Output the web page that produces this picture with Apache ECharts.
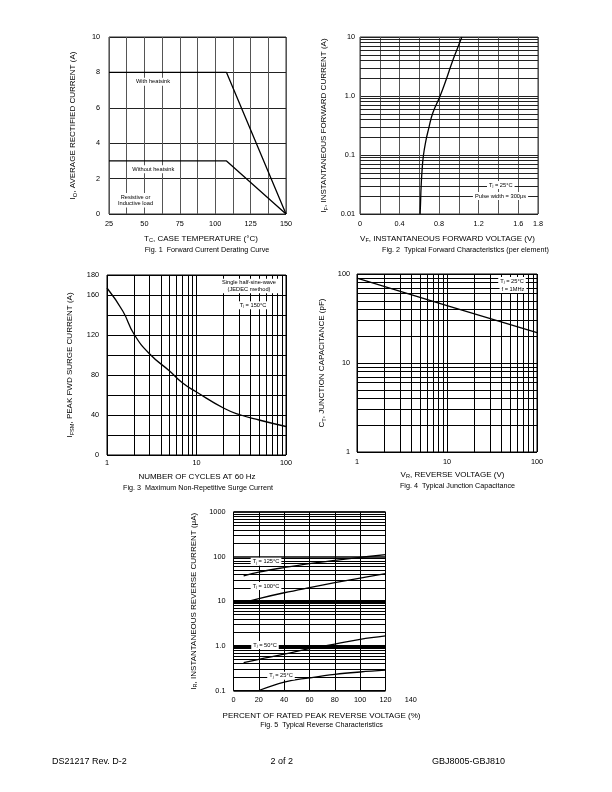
<!DOCTYPE html>
<html><head><meta charset="utf-8">
<script src="https://cdn.jsdelivr.net/npm/echarts@6/dist/echarts.min.js"></script>
<style>html,body{margin:0;padding:0;background:#fff}#c{width:612px;height:792px}</style>
</head><body><div id="c"></div>
<script>
// ---------------- Data ----------------
// Fig. 1 Forward Current Derating Curve
const fig1Temp = [25, 108, 150];
const fig1WithHeatsink = [8, 8, 0];
const fig1WithoutHeatsink = [3, 3, 0];
const fig1XLabels = [25, 50, 75, 100, 125, 150];
const fig1YLabels = [0, 2, 4, 6, 8, 10];

// Fig. 2 Typical Forward Characteristics
const fig2Voltage = [0.608, 0.612, 0.618, 0.628, 0.642, 0.665, 0.692, 0.736, 0.81, 0.871, 0.929, 0.98, 1.03];
const fig2Current = [0.01, 0.015, 0.029, 0.056, 0.1, 0.17, 0.27, 0.515, 1.0, 1.89, 3.62, 6.1, 10];
const fig2XLabels = ['0', '0.4', '0.8', '1.2', '1.6', '1.8'];
const fig2YLabels = ['0.01', '0.1', '1.0', '10'];
const fig2Decades = [0.01, 0.1, 1];

// Fig. 3 Maximum Non-Repetitive Surge Current
const fig3Cycles = [1, 1.5, 2, 3, 5, 7, 10, 20, 30, 50, 100];
const fig3Current = [167, 144, 121, 101, 84, 72, 63, 47, 40.5, 35, 28.5];
const fig3XLabels = ['1', '10', '100'];
const fig3YLabels = [0, 40, 80, 120, 160, 180];
const fig3Decades = [1, 10];

// Fig. 4 Typical Junction Capacitance
const fig4Voltage = [1, 10, 100];
const fig4Capacitance = [90, 44, 22];
const fig4XLabels = ['1', '10', '100'];
const fig4YLabels = ['1', '10', '100'];
const fig4Decades = [1, 10];

// Fig. 5 Typical Reverse Characteristics
const fig5Percent = [8, 20, 40, 60, 80, 100, 120];
const fig5Tj125 = [37, 45, 57, 70, 82, 96, 111];
const fig5Tj100 = [9.3, 11.5, 15.5, 20.2, 26, 33, 41.6];
const fig5Tj50 = [0.42, 0.5, 0.65, 0.87, 1.1, 1.4, 1.67];
const fig5Percent25 = [20, 40, 60, 80, 100, 120];
const fig5Tj25 = [0.1, 0.155, 0.192, 0.23, 0.26, 0.285];
const fig5XLabels = [0, 20, 40, 60, 80, 100, 120, 140];
const fig5YLabels = ['0.1', '1.0', '10', '100', '1000'];
const fig5Decades = [0.1, 1, 10, 100];
const fig5HeavyLines = [1, 10];

const logMinorSteps = [2, 3, 4, 5, 6, 7, 8, 9];

// ---------------- Helpers ----------------
const FONT = '"Liberation Sans", Arial, Helvetica, sans-serif';
const TICK = 7.3;
const pairs = (xs, ys) => xs.map((x, i) => [x, ys[i]]);
const minors = decs => decs.flatMap(d => logMinorSteps.map(m => +(d * m).toPrecision(6)));
const dec = v => Math.round(Math.log10(v));

const axisRich = {
  s: { fontSize: 5.6, fontFamily: FONT, color: '#000', lineHeight: 6, verticalAlign: 'bottom' }
};
function label(margin, formatter, show = true) {
  return { show, fontSize: TICK, fontFamily: FONT, color: '#000', margin, formatter,
           showMinLabel: true, showMaxLabel: true };
}
function split(color, width = 1) {
  return { show: true, lineStyle: { color, width, type: 'solid' } };
}
function yName(text, gap) {
  return { name: text, nameLocation: 'middle', nameGap: gap, nameRotate: 90,
           nameTextStyle: { fontSize: 8, fontFamily: FONT, color: '#000', lineHeight: 10, rich: axisRich } };
}
const noLine = { show: false };
const lineCommon = {
  type: 'line', showSymbol: false, symbol: 'none', silent: true, animation: false, z: 5,
  lineStyle: { color: '#000', width: 1.3 }, itemStyle: { color: '#000' }
};
function markLines(items, color) {
  return { silent: true, symbol: ['none', 'none'], label: { show: false }, animation: false,
           emphasis: { disabled: true },
           lineStyle: { type: 'solid', color: color || '#000', width: 1 }, data: items };
}
function txt(x, y, text, size, extra) {
  const style = Object.assign({
    text, fontSize: size, fontFamily: FONT, fill: '#000',
    align: 'center', verticalAlign: 'middle',
    rich: { s: { fontSize: size * 0.7, fontFamily: FONT, fill: '#000', lineHeight: size * 0.75, verticalAlign: 'bottom' },
            n: { fontSize: size, fontFamily: FONT, fill: '#000', lineHeight: size * 1.2 } }
  }, extra || {});
  return { type: 'text', x, y, z: 100, silent: true, style };
}
const box = { backgroundColor: '#fff', padding: [1, 2] };

// ---------------- Chart ----------------
const chart = echarts.init(document.getElementById('c'), null, { renderer: 'canvas' });
const gridBase = { show: true, borderColor: '#000', borderWidth: 1, backgroundColor: 'transparent', containLabel: false };

const option = {
  animation: false,
  backgroundColor: '#fff',
  grid: [
    Object.assign({ left: 109, top: 37, width: 177, height: 177 }, gridBase, { borderColor: '#333' }),
    Object.assign({ left: 360, top: 37, width: 178, height: 177 }, gridBase, { borderColor: '#333' }),
    Object.assign({ left: 107, top: 275, width: 179, height: 180 }, gridBase),
    Object.assign({ left: 357, top: 274, width: 180, height: 178 }, gridBase),
    Object.assign({ left: 233.5, top: 512, width: 152, height: 178.5 }, gridBase),
    { show: false, left: 233.5, top: 512, width: 177.3, height: 178.5 }
  ],
  xAxis: [
    { gridIndex: 0, type: 'value', min: 25, max: 150, interval: 12.5,
      axisLine: noLine, axisTick: noLine, splitLine: split('#555'),
      axisLabel: label(6, v => fig1XLabels.includes(v) ? String(v) : '') },
    { gridIndex: 1, type: 'value', min: 0, max: 1.8, interval: 0.2,
      axisLine: noLine, axisTick: noLine, splitLine: split('#555'),
      axisLabel: label(6, v => { const s = v === 0 ? '0' : v.toFixed(1); return fig2XLabels.includes(s) ? s : ''; }) },
    { gridIndex: 2, type: 'log', logBase: 10, min: 1, max: 100,
      axisLine: noLine, axisTick: noLine, splitLine: split('#000'),
      axisLabel: label(4, v => fig3XLabels[dec(v)]) },
    { gridIndex: 3, type: 'log', logBase: 10, min: 1, max: 100,
      axisLine: noLine, axisTick: noLine, splitLine: split('#000'),
      axisLabel: label(6, v => fig4XLabels[dec(v)]) },
    { gridIndex: 4, type: 'value', min: 0, max: 120, interval: 20,
      axisLine: noLine, axisTick: noLine, splitLine: split('#000'),
      axisLabel: { show: false } },
    { gridIndex: 5, type: 'value', min: 0, max: 140, interval: 20,
      axisLine: noLine, axisTick: noLine, splitLine: noLine,
      axisLabel: label(6, v => fig5XLabels.includes(v) ? String(v) : '') }
  ],
  yAxis: [
    Object.assign({ gridIndex: 0, type: 'value', min: 0, max: 10, interval: 2,
      axisLine: noLine, axisTick: noLine, splitLine: split('#222'),
      axisLabel: label(9, v => fig1YLabels.includes(v) ? String(v) : '') },
      yName('I{s|O}, AVERAGE RECTIFIED CURRENT (A)', 31)),
    Object.assign({ gridIndex: 1, type: 'log', logBase: 10, min: 0.01, max: 10,
      axisLine: noLine, axisTick: noLine, splitLine: split('#222'),
      axisLabel: label(5, v => fig2YLabels[dec(v) + 2]) },
      yName('I{s|F}, INSTANTANEOUS FORWARD CURRENT (A)', 31)),
    Object.assign({ gridIndex: 2, type: 'value', min: 0, max: 180, interval: 20,
      axisLine: noLine, axisTick: noLine, splitLine: split('#000'),
      axisLabel: label(8, v => fig3YLabels.includes(v) ? String(v) : '') },
      yName('I{s|FSM}, PEAK FWD SURGE CURRENT (A)', 32)),
    Object.assign({ gridIndex: 3, type: 'log', logBase: 10, min: 1, max: 100,
      axisLine: noLine, axisTick: noLine, splitLine: split('#000'),
      axisLabel: label(7, v => fig4YLabels[dec(v)]) },
      yName('C{s|T}, JUNCTION CAPACITANCE (pF)', 30)),
    Object.assign({ gridIndex: 4, type: 'log', logBase: 10, min: 0.1, max: 1000,
      axisLine: noLine, axisTick: noLine, splitLine: split('#000', 1.5),
      axisLabel: label(8, v => fig5YLabels[dec(v) + 1]) },
      yName('I{s|R}, INSTANTANEOUS REVERSE CURRENT (μA)', 35)),
    { gridIndex: 5, type: 'value', min: 0, max: 1, show: false }
  ],
  series: [
    // Fig 1
    Object.assign({ name: 'With heatsink', xAxisIndex: 0, yAxisIndex: 0, data: pairs(fig1Temp, fig1WithHeatsink) }, lineCommon),
    Object.assign({ name: 'Without heatsink', xAxisIndex: 0, yAxisIndex: 0, data: pairs(fig1Temp, fig1WithoutHeatsink) }, lineCommon),
    // Fig 2
    Object.assign({ name: 'IF', xAxisIndex: 1, yAxisIndex: 1, smooth: 0.5, data: pairs(fig2Voltage, fig2Current),
      markLine: markLines(minors(fig2Decades).map(v => ({ yAxis: v })), '#222') }, lineCommon),
    // Fig 3
    Object.assign({ name: 'IFSM', xAxisIndex: 2, yAxisIndex: 2, smooth: 0.5, data: pairs(fig3Cycles, fig3Current),
      markLine: markLines(minors(fig3Decades).map(v => ({ xAxis: v }))) }, lineCommon),
    // Fig 4
    Object.assign({ name: 'CT', xAxisIndex: 3, yAxisIndex: 3, data: pairs(fig4Voltage, fig4Capacitance),
      markLine: markLines(minors(fig4Decades).map(v => ({ xAxis: v })).concat(minors(fig4Decades).map(v => ({ yAxis: v })))) }, lineCommon),
    // Fig 5
    Object.assign({ name: 'Tj=125', xAxisIndex: 4, yAxisIndex: 4, smooth: 0.4, data: pairs(fig5Percent, fig5Tj125),
      markLine: markLines(minors(fig5Decades).map(v => ({ yAxis: v }))
        .concat(fig5HeavyLines.map(v => ({ yAxis: v, lineStyle: { width: 3, color: '#000', type: 'solid' } })))) }, lineCommon),
    Object.assign({ name: 'Tj=100', xAxisIndex: 4, yAxisIndex: 4, smooth: 0.4, data: pairs(fig5Percent, fig5Tj100) }, lineCommon),
    Object.assign({ name: 'Tj=50', xAxisIndex: 4, yAxisIndex: 4, smooth: 0.4, data: pairs(fig5Percent, fig5Tj50) }, lineCommon),
    Object.assign({ name: 'Tj=25', xAxisIndex: 4, yAxisIndex: 4, smooth: 0.4, data: pairs(fig5Percent25, fig5Tj25) }, lineCommon)
  ],
  graphic: { elements: [
    // Fig 1 annotations
    txt(153, 81.7, 'With heatsink', 5.7, box),
    txt(153.3, 169.3, 'Without heatsink', 5.7, box),
    txt(135.5, 200.3, 'Resistive or\nInductive load', 5.7, Object.assign({ lineHeight: 6.2 }, box)),
    txt(201, 239, 'T{s|C}, CASE TEMPERATURE (°C)', 8),
    txt(207, 250, 'Fig. 1  Forward Current Derating Curve', 7.2),
    // Fig 2
    txt(500.8, 185, 'T{s|j} = 25°C', 5.7, box),
    txt(500.5, 196, 'Pulse width = 300μs', 5.7, box),
    txt(447.5, 239, 'V{s|F}, INSTANTANEOUS FORWARD VOLTAGE (V)', 8),
    txt(465.5, 250, 'Fig. 2  Typical Forward Characteristics (per element)', 7.2),
    // Fig 3
    txt(249, 286, 'Single half-sine-wave\n(JEDEC method)', 5.7, Object.assign({ lineHeight: 6.3 }, box)),
    txt(253, 305.3, 'T{s|j} = 150°C', 5.7, box),
    txt(197, 477, 'NUMBER OF CYCLES AT 60 Hz', 8),
    txt(198, 488, 'Fig. 3  Maximum Non-Repetitive Surge Current', 7.2),
    // Fig 4
    txt(512, 281, 'T{s|j} = 25°C', 5.7, box),
    txt(513, 289, 'f = 1MHz', 5.7, box),
    txt(452.5, 475, 'V{s|R}, REVERSE VOLTAGE (V)', 8),
    txt(457.5, 486, 'Fig. 4  Typical Junction Capacitance', 7.2),
    // Fig 5
    txt(266, 561.7, 'T{s|j} = 125°C', 5.7, box),
    txt(266, 586, 'T{s|j} = 100°C', 5.7, box),
    txt(265, 645, 'T{s|j} = 50°C', 5.7, box),
    txt(281, 675.7, 'T{s|j} = 25°C', 5.7, box),
    txt(321.5, 716, 'PERCENT OF RATED PEAK REVERSE VOLTAGE (%)', 8),
    txt(321.5, 725.5, 'Fig. 5  Typical Reverse Characteristics', 7.2),
    // Footer
    txt(52, 762, 'DS21217 Rev. D-2', 9, { align: 'left' }),
    txt(281.7, 762, '2 of 2', 9),
    txt(505, 762, 'GBJ8005-GBJ810', 9, { align: 'right' })
  ] }
};
chart.setOption(option);
</script>
</body></html>
